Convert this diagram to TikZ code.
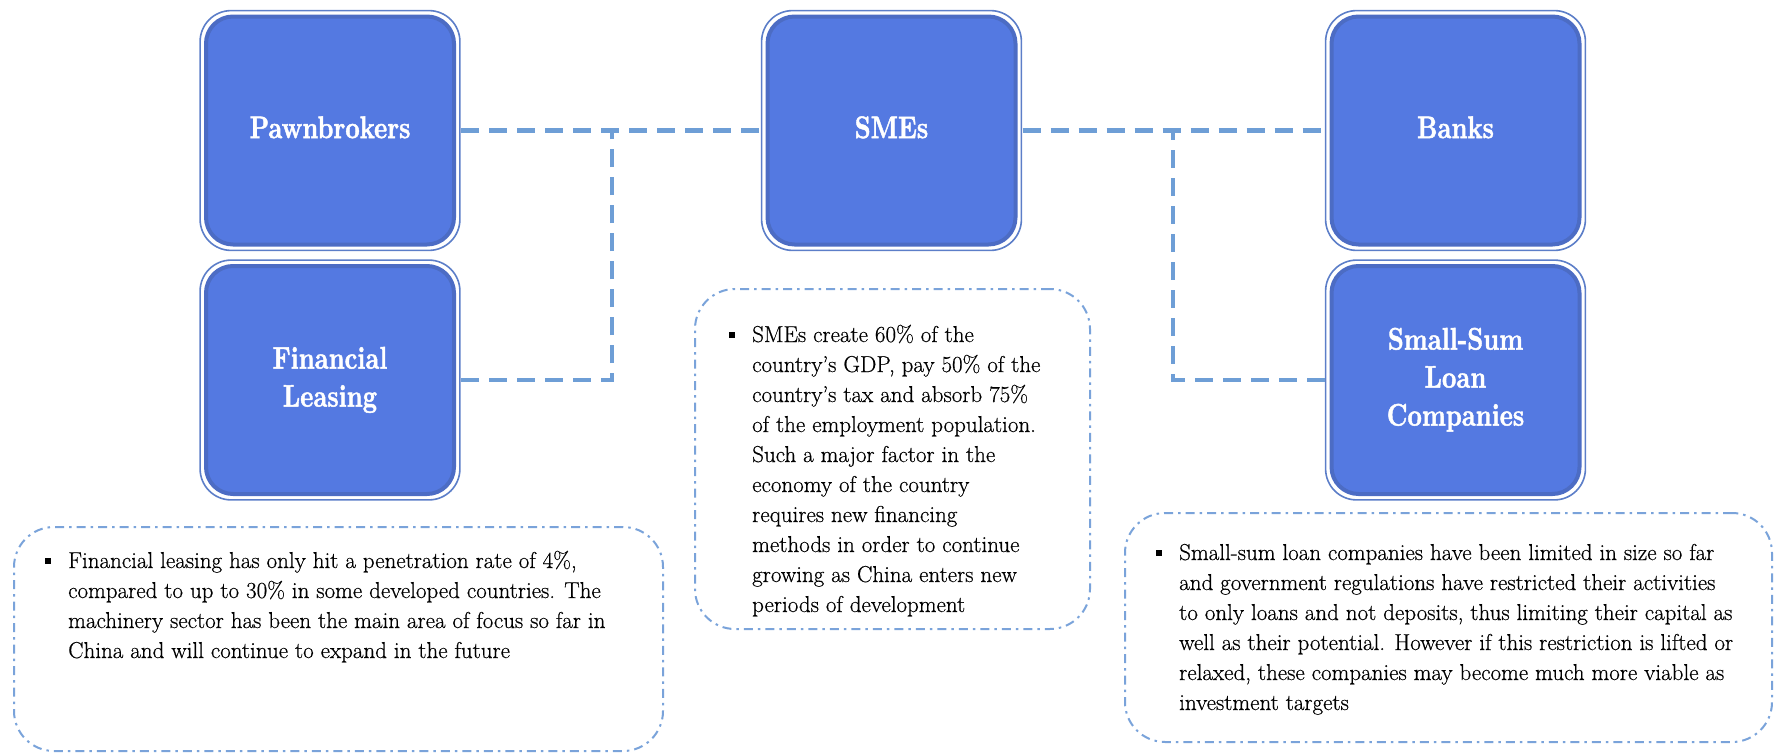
\documentclass[tikz,border=0pt]{standalone}
\usepackage{graphicx}
\usepackage{fontspec}
\newfontface\labelface{lmroman10-bold.otf}[FakeBold=1.6, Ligatures=TeX]
\newfontface\noteface{lmroman17-regular.otf}[FakeBold=0.5, Ligatures=TeX]

\definecolor{boxfill}{RGB}{84,121,225}
\definecolor{boxband}{RGB}{76,108,196}
\definecolor{boxframe}{RGB}{92,126,200}
\definecolor{linkblue}{RGB}{110,158,214}
\definecolor{noteblue}{RGB}{122,163,218}

\tikzset{
  entity/.style={draw=boxband, line width=4pt, fill=boxfill, rounded corners=27pt,
    minimum width=248pt, minimum height=228pt, inner sep=0pt, text=white,
    font=\labelface\fontsize{25}{30.4}\selectfont},
  frame/.style={draw=boxframe, line width=1.6pt, rounded corners=31pt},
  link/.style={draw=linkblue, line width=4.5pt, dash pattern=on 18pt off 10pt},
  note/.style={draw=noteblue, line width=2pt, dash pattern=on 9pt off 5pt on 2.5pt off 5pt,
    rounded corners=40pt, inner sep=0pt},
  notetext/.style={anchor=base west, inner sep=0pt, text=black,
    font=\noteface\fontsize{23}{30}\selectfont}
}

% label set in a slightly tall bold face
\newcommand{\boxlabel}[1]{\scalebox{1}[1.25]{\begin{tabular}{@{}c@{}}#1\end{tabular}}}
\newcommand{\bulletmark}{\makebox[23pt][l]{\rule[4.5pt]{6pt}{6pt}}}

\begin{document}
\begin{tikzpicture}[x=1pt,y=-1pt]
\useasboundingbox (0,0) rectangle (1777,755);

% junction points of the connectors
\coordinate (lj) at (612,130.5);
\coordinate (rj) at (1173,130.5);

% institution boxes
\node[entity] (pawn)  at (330,130.5)    {\boxlabel{Pawnbrokers}};
\node[entity] (lease) at (330,380)      {\boxlabel{Financial\\Leasing}};
\node[entity] (sme)   at (891.5,130.5)  {\boxlabel{SMEs}};
\node[entity] (bank)  at (1455.5,130.5) {\boxlabel{Banks}};
\node[entity] (loan)  at (1455.5,380)   {\boxlabel{Small-Sum\\Loan\\Companies}};

\foreach \n in {pawn,lease,sme,bank,loan}
  \draw[frame] ([shift={(-3.9pt,3.9pt)}]\n.north west) rectangle ([shift={(3.9pt,-3.9pt)}]\n.south east);

% dashed connectors
\draw[link] ([xshift=5pt]pawn.east) -- ([xshift=-5pt]sme.west);
\draw[link] ([xshift=5pt]sme.east) -- ([xshift=-5pt]bank.west);
\draw[link] ([xshift=5pt]lease.east) -| (lj);
\draw[link] ([xshift=-5pt]loan.west) -| (rj);

% note frames
\node[note, minimum width=649pt, minimum height=224pt] (lnote) at (338.5,639) {};
\node[note, minimum width=395pt, minimum height=340pt] (cnote) at (892.5,459) {};
\node[note, minimum width=647pt, minimum height=229pt] (rnote) at (1448.5,627.5) {};

% note texts
\node[notetext] (ltext) at (45,568) {\begin{tabular}[t]{@{}l@{}l@{}}
\bulletmark & Financial leasing has only hit a penetration rate of 4\%,\\
 & compared to up to 30\% in some developed countries. The\\
 & machinery sector has been the main area of focus so far in\\
 & China and will continue to expand in the future
\end{tabular}};

\node[notetext] (ctext) at (729,342) {\begin{tabular}[t]{@{}l@{}l@{}}
\bulletmark & SMEs create 60\% of the\\
 & country's GDP, pay 50\% of the\\
 & country's tax and absorb 75\%\\
 & of the employment population.\\
 & Such a major factor in the\\
 & economy of the country\\
 & requires new financing\\
 & methods in order to continue\\
 & growing as China enters new\\
 & periods of development
\end{tabular}};

\node[notetext] (rtext) at (1156,560) {\begin{tabular}[t]{@{}l@{}l@{}}
\bulletmark & Small-sum loan companies have been limited in size so far\\
 & and government regulations have restricted their activities\\
 & to only loans and not deposits, thus limiting their capital as\\
 & well as their potential. However if this restriction is lifted or\\
 & relaxed, these companies may become much more viable as\\
 & investment targets
\end{tabular}};
\end{tikzpicture}
\end{document}
